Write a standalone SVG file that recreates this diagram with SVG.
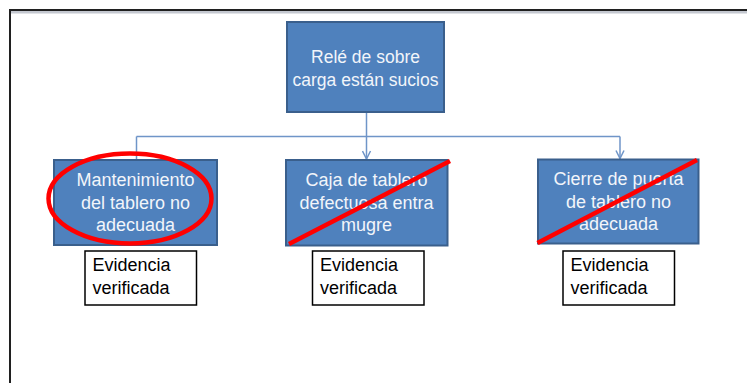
<svg xmlns="http://www.w3.org/2000/svg" width="747" height="383" viewBox="0 0 747 383">
<defs>
<style>
.box{fill:#4F81BD;stroke:#3A5F8C;stroke-width:2}
.ev{fill:#FFFFFF;stroke:#000000;stroke-width:1.5}
.t{font-family:"Liberation Sans",Arial,sans-serif;font-size:18px;fill:#F2F5FA;text-anchor:middle}
.t2{font-family:"Liberation Sans",Arial,sans-serif;font-size:17.5px;fill:#F2F5FA;text-anchor:middle}
.e{font-family:"Liberation Sans",Arial,sans-serif;font-size:18px;fill:#000000}
.c{fill:none;stroke:#6F95C8;stroke-width:1.5}
.x{fill:none;stroke:#FF0000;stroke-width:4.5;stroke-linecap:butt}
</style>
<marker id="arr" viewBox="0 0 10 10" refX="9" refY="5" markerWidth="10" markerHeight="10" markerUnits="userSpaceOnUse" orient="auto">
<path d="M1,1 L9,5 L1,9" fill="none" stroke="#6F95C8" stroke-width="1.5"/>
</marker>
</defs>
<rect x="0" y="0" width="747" height="383" fill="#FFFFFF"/>
<g id="frame">
<line x1="9" y1="12" x2="747" y2="12" stroke="#C4C8D0" stroke-width="3"/>
<line x1="9" y1="10" x2="747" y2="10" stroke="#202020" stroke-width="2"/>
<line x1="10" y1="9" x2="10" y2="383" stroke="#202020" stroke-width="2"/>
</g>
<g id="connectors">
<line class="c" x1="366.5" y1="112" x2="366.5" y2="136.5"/>
<line class="c" x1="136.5" y1="136.5" x2="620" y2="136.5"/>
<line class="c" x1="136.5" y1="136.5" x2="136.5" y2="159"/>
<line class="c" x1="366.5" y1="136.5" x2="366.5" y2="159" marker-end="url(#arr)"/>
<line class="c" x1="620" y1="136.5" x2="620" y2="158.5" marker-end="url(#arr)"/>
</g>
<g id="root">
<rect class="box" x="287" y="22" width="157" height="90"/>
<text class="t2" x="365.5" y="62.5">Relé de sobre</text>
<text class="t2" x="365.5" y="85.5">carga están sucios</text>
</g>
<g id="cause1">
<rect class="box" x="54" y="160" width="163" height="85"/>
<text class="t" x="135.5" y="185.5">Mantenimiento</text>
<text class="t" x="135.5" y="208.5">del tablero no</text>
<text class="t" x="135.5" y="231">adecuada</text>
</g>
<g id="cause2">
<rect class="box" x="286" y="160" width="161.5" height="85.5"/>
<text class="t" x="366.5" y="185.5">Caja de tablero</text>
<text class="t" x="366.5" y="208.5">defectuosa entra</text>
<text class="t" x="366.5" y="231">mugre</text>
</g>
<g id="cause3">
<rect class="box" x="538" y="159.5" width="160.5" height="84"/>
<text class="t" x="618.5" y="184.5">Cierre de puerta</text>
<text class="t" x="618.5" y="207.5">de tablero no</text>
<text class="t" x="618.5" y="230">adecuada</text>
</g>
<g id="evidence1">
<rect class="ev" x="85" y="251" width="111.5" height="54"/>
<text class="e" x="92.5" y="271">Evidencia</text>
<text class="e" x="92.5" y="293.5">verificada</text>
</g>
<g id="evidence2">
<rect class="ev" x="312.5" y="251" width="111.5" height="54"/>
<text class="e" x="320" y="271">Evidencia</text>
<text class="e" x="320" y="293.5">verificada</text>
</g>
<g id="evidence3">
<rect class="ev" x="563" y="251" width="111.5" height="54"/>
<text class="e" x="570.5" y="271">Evidencia</text>
<text class="e" x="570.5" y="293.5">verificada</text>
</g>
<g id="marks">
<ellipse class="x" cx="130" cy="198.5" rx="81.5" ry="45"/>
<line class="x" x1="289" y1="244" x2="450" y2="161"/>
<line class="x" x1="537.5" y1="243" x2="697" y2="160"/>
</g>
</svg>
